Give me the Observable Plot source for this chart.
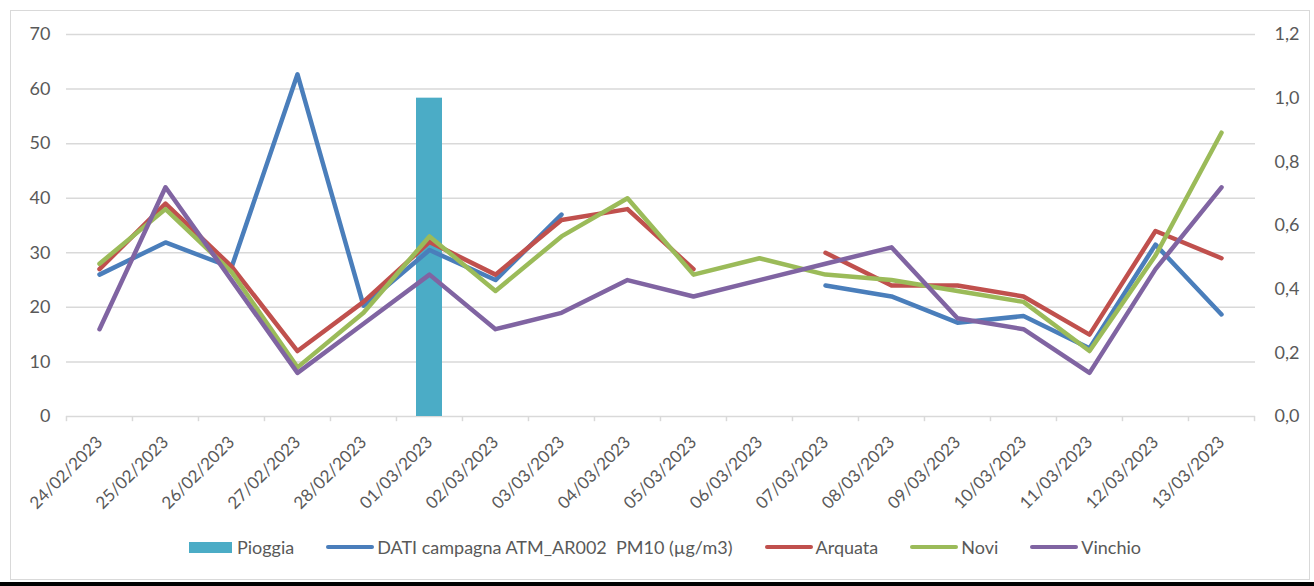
<!DOCTYPE html>
<html>
<head>
<meta charset="utf-8">
<script src="https://cdn.jsdelivr.net/npm/d3@7"></script>
<script src="https://cdn.jsdelivr.net/npm/@observablehq/plot@0.6"></script>
<style>
  body { margin: 0; background: #fff; font-family: Lato, "Open Sans", sans-serif; }
  #wrap { position: relative; width: 1314px; height: 586px; overflow: hidden; background: #fff; }
  #frame { position: absolute; left: 10px; top: 10px; width: 1300px; height: 570px; border: 1px solid #d9d9d9; box-sizing: border-box; }
  #blackbar { position: absolute; left: 0; top: 582px; width: 1314px; height: 4px; background: #000; }
  #chart { position: absolute; left: 0; top: 0; }
  #legend { position: absolute; left: 8px; top: 536px; width: 1314px; display: flex; justify-content: center; align-items: center; font-size: 18px; color: #595959; }
  .item { display: flex; align-items: center; margin: 0 16px; white-space: pre; }
  .sw-rect { width: 43px; height: 11px; margin-right: 5px; }
  .sw-line { width: 48px; height: 4.5px; border-radius: 3px; margin-right: 3px; }
</style>
</head>
<body>
<div id="wrap">
  <div id="frame"></div>
  <div id="chart"></div>
  <div id="legend"></div>
  <div id="blackbar"></div>
</div>
<script>
// ---- data ----
const dates = ["24/02/2023","25/02/2023","26/02/2023","27/02/2023","28/02/2023","01/03/2023","02/03/2023","03/03/2023","04/03/2023","05/03/2023","06/03/2023","07/03/2023","08/03/2023","09/03/2023","10/03/2023","11/03/2023","12/03/2023","13/03/2023"];
const pioggia = [0,0,0,0,0,1.0,0,0,0,0,0,0,0,0,0,0,0,0];
const dati    = [26,31.9,27.3,62.7,20.3,30.5,25,37,null,null,null,24,22,17.2,18.4,12.5,31.5,18.7];
const arquata = [27,39,27.5,12,21,32,26,36,38,27,null,30,24,24,22,15,34,29];
const novi    = [28,38,26.5,9,19,33,23,33,40,26,29,26,25,23,21,12,29.5,52];
const vinchio = [16,42,25,8,17,26,16,19,25,22,25,28,31,18,16,8,27,42];
const leftTicks = [0,10,20,30,40,50,60,70];
const rightTicks = [0,0.2,0.4,0.6,0.8,1.0,1.2];

const seriesNames = ["Pioggia","DATI campagna ATM_AR002  PM10 (µg/m3)","Arquata","Novi","Vinchio"];
const colors = ["#4bacc6","#4a7ebb","#c0504d","#9bbb59","#8064a2"];

// ---- layout ----
const W = 1314, H = 520, ml = 66, mr = 59, mt = 34, mb = 104;
const step = (W - ml - mr) / dates.length;
const k = 70 / 1.2; // right axis (rain) -> left axis units

const rows = (arr) => dates.map((d, i) => ({date: d, v: arr[i]}));
const rainRows = dates.map((d, i) => ({date: d, v: pioggia[i]})).filter(r => r.v > 0);

const lineOpts = (c) => ({x: "date", y: "v", stroke: c, strokeWidth: 4.5, strokeLinecap: "round", strokeLinejoin: "round"});

const chart = Plot.plot({
  width: W, height: H,
  marginLeft: ml, marginRight: mr, marginTop: mt, marginBottom: mb,
  style: {fontFamily: "Lato, 'Open Sans', sans-serif", fontSize: "18px", color: "#595959", background: "transparent"},
  x: {type: "band", domain: dates, paddingInner: 0.6, paddingOuter: 0.3, axis: null},
  y: {domain: [0, 70], axis: null},
  marks: [
    Plot.gridY(leftTicks.filter(t => t > 0), {stroke: "#d9d9d9", strokeOpacity: 1, strokeWidth: 1.5}),
    Plot.ruleY([0], {stroke: "#d9d9d9", strokeWidth: 1.5}),
    Plot.ruleX(dates, {x: d => d, dx: -step / 2, y1: 0, y2: -0.95, stroke: "#d9d9d9", strokeWidth: 1.5}),
    Plot.ruleX(dates.slice(-1), {x: d => d, dx: step / 2, y1: 0, y2: -0.95, stroke: "#d9d9d9", strokeWidth: 1.5}),
    Plot.barY(rainRows, {x: "date", y: d => d.v * k, fill: colors[0]}),
    Plot.line(rows(dati), lineOpts(colors[1])),
    Plot.line(rows(arquata), lineOpts(colors[2])),
    Plot.line(rows(novi), lineOpts(colors[3])),
    Plot.line(rows(vinchio), lineOpts(colors[4])),
    Plot.axisY(leftTicks, {anchor: "left", tickSize: 0, tickPadding: 16, label: null}),
    Plot.axisY(rightTicks.map(t => t * k), {anchor: "right", tickSize: 0, tickPadding: 19, label: null,
      tickFormat: d => (d / k).toFixed(1).replace(".", ",")}),
    Plot.axisX({tickRotate: -45, tickSize: 0, tickPadding: 23, label: null, fontSize: "17px"})
  ]
});
document.getElementById("chart").appendChild(chart);

// ---- legend ----
const legend = document.getElementById("legend");
seriesNames.forEach((name, i) => {
  const item = document.createElement("div");
  item.className = "item";
  const sw = document.createElement("div");
  sw.className = i === 0 ? "sw-rect" : "sw-line";
  sw.style.background = colors[i];
  const t = document.createElement("span");
  t.textContent = name;
  item.appendChild(sw);
  item.appendChild(t);
  legend.appendChild(item);
});
</script>
</body>
</html>
